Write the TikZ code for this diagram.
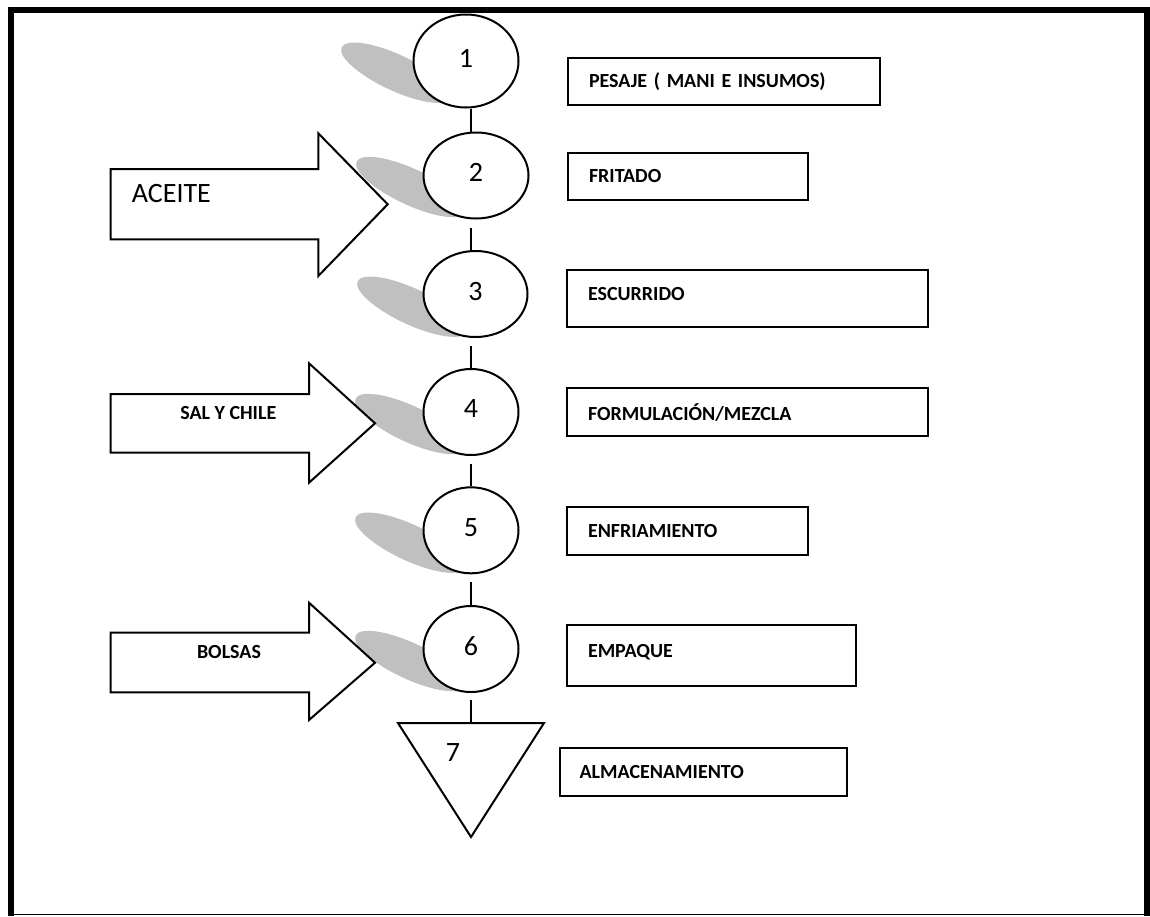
\documentclass[tikz,border=0pt]{standalone}
\usepackage{fontspec}
\setmainfont{Carlito}
\usepackage{tikz}
\usetikzlibrary{positioning,calc,shapes.geometric}
\definecolor{shadowgray}{HTML}{C0C0C0}
\tikzset{
  stepnode/.style={draw, ellipse, line width=2pt, fill=white, inner sep=0pt, text depth=6pt, font=\fontsize{28}{34}\selectfont},
  stepnum/.style={inner sep=0pt, font=\fontsize{28}{34}\selectfont},
  taskbox/.style 2 args={draw, line width=2pt, anchor=north west, align=left, inner xsep=21pt, inner ysep=0pt, text width=#1, minimum height=#2, font=\fontsize{20}{24}\selectfont\bfseries},
  inputarrow/.style={draw, line width=2pt, fill=white, line join=miter},
  inlabel/.style={inner sep=0pt, font=\fontsize{20}{24}\selectfont\bfseries},
  stepshadow/.style={fill=shadowgray},
  link/.style={line width=2pt},
  framebar/.style={line width=6pt}
}

\begin{document}
\begin{tikzpicture}[x=1pt, y=-1pt]
  \useasboundingbox (0,0) rectangle (1150,916);
  \draw[framebar] (11,916) -- (11,10) -- (1146.5,10) -- (1146.5,916);
  \draw[line width=1.5pt] (11,914.5) -- (1146.5,914.5);

  \foreach \sx/\sy in {396/72.7, 411/187, 412/306.7, 410/424, 410/542.7, 410/661}
    \fill[stepshadow, rotate around={-25:(\sx,\sy)}] (\sx,\sy) ellipse [x radius=60, y radius=18];

  \draw[inputarrow] (110.7,169) -- (318.3,169) -- (318.3,133.3) -- (387.7,204.3) -- (318.3,276) -- (318.3,239.3) -- (110.7,239.3) -- cycle;
  \draw[inputarrow] (110.7,394) -- (309,394) -- (309,363.3) -- (375,423.3) -- (309,482.7) -- (309,452.7) -- (110.7,452.7) -- cycle;
  \draw[inputarrow] (110.7,632.7) -- (309,632.7) -- (309,602.7) -- (375,662.7) -- (309,720) -- (309,692.3) -- (110.7,692.3) -- cycle;
  \node[stepnum, anchor=west] (aceite) at (131.7,194) {ACEITE};
  \node[inlabel] (salchile) at (228.3,412.7) {SAL Y CHILE};
  \node[inlabel] (bolsas) at (229,651.7) {BOLSAS};

  \node[stepnode, minimum width=105pt, minimum height=93pt] (c1) at (466,61) {1};
  \node[stepnode, minimum width=105pt, minimum height=86pt] (c2) at (476,175.5) {2};
  \node[stepnode, minimum width=104pt, minimum height=86pt] (c3) at (475.5,294) {3};
  \node[stepnode, minimum width=95pt, minimum height=86pt] (c4) at (471,412) {4};
  \node[stepnode, minimum width=95pt, minimum height=86pt] (c5) at (471,530.3) {5};
  \node[stepnode, minimum width=95pt, minimum height=86pt] (c6) at (471,649) {6};

  \draw[inputarrow] (398,723) -- (544,723) -- (471,837) -- cycle;
  \coordinate (t7) at (471,723);
  \node[stepnum] (n7) at (453,753) {7};

  \node[taskbox={270pt}{47pt}] (b1) at (567,57) {PESAJE ( MANI E INSUMOS)};
  \node[taskbox={198pt}{47pt}] (b2) at (567,152) {FRITADO};
  \node[taskbox={319pt}{57pt}, text depth=10pt] (b3) at (566,269) {ESCURRIDO};
  \node[taskbox={319pt}{48pt}] (b4) at (566,387.3) {FORMULACIÓN/MEZCLA};
  \node[taskbox={199pt}{48pt}] (b5) at (566,505.7) {ENFRIAMIENTO};
  \node[taskbox={247pt}{61pt}, text depth=10pt] (b6) at (566,624) {EMPAQUE};
  \node[taskbox={247pt}{48pt}, inner xsep=20pt] (b7) at (558.6,747) {ALMACENAMIENTO};

  \draw[link] (c1.south -| c4) -- (c2.north -| c4);
  \foreach \a/\b in {c2/c3, c3/c4, c4/c5, c5/c6}
    \draw[link, shorten <=8pt] (\a.south -| c4) -- (\b.north -| c4);
  \draw[link, shorten <=7pt] (c6.south) -- (t7);
\end{tikzpicture}
\end{document}
